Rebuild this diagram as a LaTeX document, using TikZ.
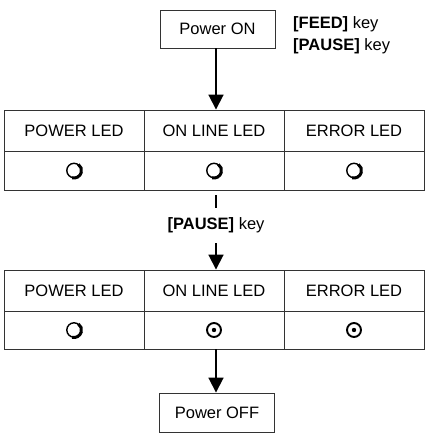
\documentclass[tikz,border=0pt]{standalone}
\usepackage{fontspec}
\setmainfont{Liberation Sans}
\usetikzlibrary{arrows.meta, positioning}

\begin{document}
\begin{tikzpicture}[x=1pt, y=-1pt,
    txt/.style={font=\fontsize{16.5}{19}\selectfont, inner sep=0pt},
    cell/.style={txt, draw=black!80, line width=0.9pt, minimum width=140pt},
    keybox/.style={txt, draw=black!80, line width=0.9pt, minimum width=115pt, minimum height=38pt},
    flow/.style={line width=1.8pt, -{Triangle[width=15pt, length=15pt]}},
    ledoff/.pic={
        \draw[line width=1.4pt] (0,0) circle (7.2pt);
        \draw[line width=3pt] (-105:7.5pt) arc [start angle=-105, end angle=55, radius=7.5pt];
    },
    ledon/.pic={
        \draw[line width=1.9pt] (0,0) circle (7pt);
        \fill (0,0) circle (2.2pt);
    }]

    \useasboundingbox (0,0) rectangle (431,440);

    % Define the column centres
    \def\colA{74}
    \def\colB{214}
    \def\colC{354}

    % Start box and keys
    \node[keybox] (powerOn) at (217.5,29) {Power ON};
    \node[txt, anchor=west] (feedkey) at (293,24) {\textbf{[FEED]} key};
    \node[txt, anchor=west] (holdkey) at (293,46) {\textbf{[PAUSE]} key};

    % First table
    \foreach \c/\x/\t in {1/\colA/POWER LED, 2/\colB/ON LINE LED, 3/\colC/ERROR LED} {
        \node[cell, minimum height=41pt] (hdrA-\c) at (\x,130.5) {\t};
        \node[cell, minimum height=39pt] (ledA-\c) at (\x,170.5) {};
        \pic at (ledA-\c) {ledoff};
    }

    % Key between the tables
    \node[txt, minimum height=35pt] (pausekey) at (216,225.5) {\textbf{[PAUSE]} key};

    % Second table
    \foreach \c/\x/\t in {1/\colA/POWER LED, 2/\colB/ON LINE LED, 3/\colC/ERROR LED} {
        \node[cell, minimum height=41pt] (hdrB-\c) at (\x,290.5) {\t};
        \node[cell, minimum height=38pt] (ledB-\c) at (\x,330) {};
    }
    \pic at (ledB-1) {ledoff};
    \pic at (ledB-2) {ledon};
    \pic at (ledB-3) {ledon};

    % End box
    \node[keybox, minimum height=39pt] (powerOff) at (217,412.5) {Power OFF};

    % Connectors
    \draw[flow] (powerOn.south -| pausekey) -- (pausekey |- hdrA-2.north);
    \draw[line width=1.8pt, shorten <=5pt] (pausekey |- ledA-2.south) -- (pausekey.north);
    \draw[flow] (pausekey.south) -- (pausekey |- hdrB-2.north);
    \draw[flow] (pausekey |- ledB-2.south) -- (pausekey |- powerOff.north);

\end{tikzpicture}
\end{document}
